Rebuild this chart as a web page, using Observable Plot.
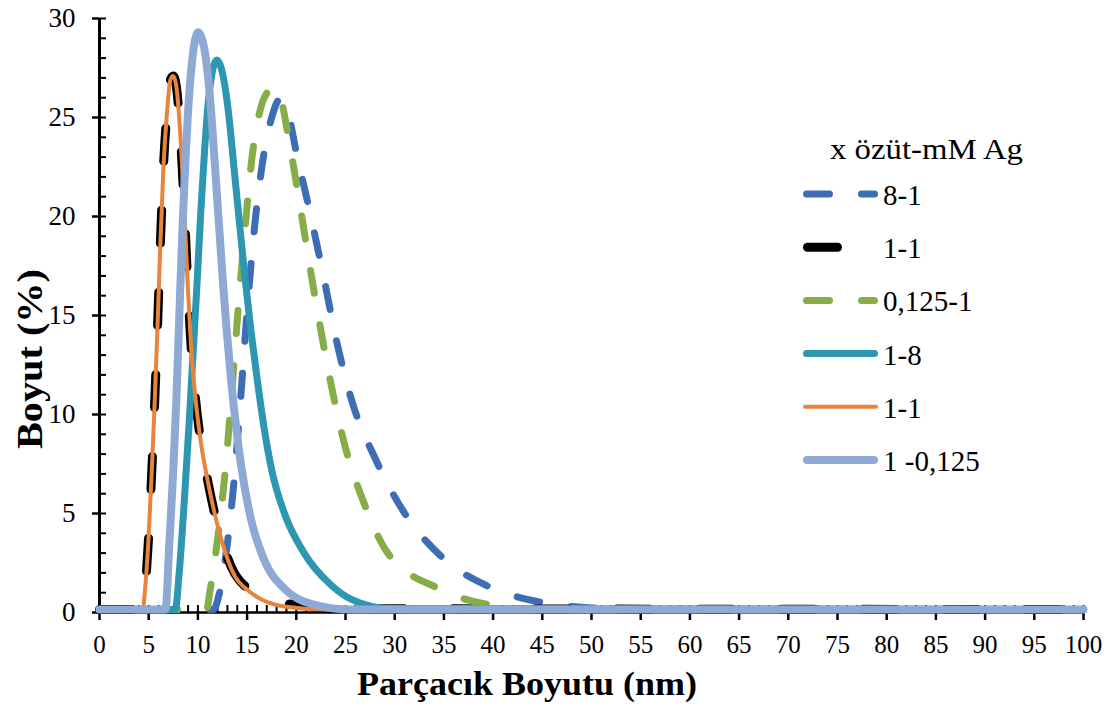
<!DOCTYPE html>
<html><head><meta charset="utf-8">
<script src="https://cdn.jsdelivr.net/npm/d3@7"></script>
<script src="https://cdn.jsdelivr.net/npm/@observablehq/plot@0.6"></script>
<style>
html,body{margin:0;padding:0;background:#fff;}
#wrap{position:relative;width:1115px;height:707px;font-family:"Liberation Serif","Times New Roman",serif;}
#wrap svg.overlay{position:absolute;left:0;top:0;pointer-events:none;}
</style></head><body><div id="wrap"></div>
<script>
// ---- data (x = particle size nm, y = %) ----
const legendTitle = "x özüt-mM Ag";
const seriesLabels = ["8-1", "1-1", "0,125-1", "1-8", "1-1", "1 -0,125"];
const xTicks = [0,5,10,15,20,25,30,35,40,45,50,55,60,65,70,75,80,85,90,95,100];
const yTicks = [0,5,10,15,20,25,30];

const s8_1 = [[0,0.15],[11.6,0.15],[12.1,0.8],[13,3.5],[13.7,6.8],[14.3,10.5],[15,15.2],[15.7,19.2],[16.5,22.5],[17.5,25],[18.3,25.9],[19,25.5],[20.1,23],[21.3,20.4],[22.8,16.9],[24.1,13.7],[25.7,10.6],[28,7.8],[30.9,5.1],[34.8,2.8],[39.6,1.3],[45.1,0.5],[50.7,0.22],[56,0.15],[100,0.15]];
const s1_1a = [[0,0.15],[4.4,0.15],[4.6,1],[5,3.9],[5.3,7],[5.6,10.5],[5.9,14.5],[6.2,18.8],[6.5,22.5],[6.9,25.5],[7.2,26.9],[7.5,27.1],[7.8,26.6],[8.1,25],[8.4,22.5],[8.7,19.5],[9,16.2],[9.3,13.5],[9.8,10.6],[10.3,8.6],[11.1,6.4],[12.1,4.2],[13.4,2.3],[15.4,1.1],[18.8,0.45],[20.2,0.4],[23,0.2],[100,0.15]];
const s0125_1 = [[0,0.15],[10.9,0.15],[11.2,1],[12.2,4.5],[12.9,7.8],[13.5,11.5],[14.2,16],[14.9,20],[15.5,23],[16.4,25.5],[17.1,26.3],[17.7,26.5],[18.5,25.8],[19.2,24],[20.2,21.1],[21.3,17.7],[22.3,14.8],[23.5,11.6],[24.9,8.5],[26.9,5.5],[29.3,3],[34.5,1.2],[40.1,0.35],[45.3,0.15],[100,0.15]];
const s1_8 = [[0,0.15],[7.7,0.15],[8.1,2],[8.6,5.5],[9.1,9.5],[9.5,13],[9.9,16.5],[10.3,20.3],[10.7,23.5],[11.1,26],[11.5,27.4],[11.9,27.9],[12.6,27],[13.1,25.3],[13.7,22.3],[14.2,19.8],[14.7,17.3],[15.4,14.2],[16.1,11.5],[16.8,9.1],[17.5,7.2],[18.8,5],[20.8,3],[23.5,1.4],[25.6,0.66],[29.5,0.2],[100,0.15]];
const s1_1b = [[0,0.15],[4.4,0.15],[4.6,1],[5,3.9],[5.3,7],[5.6,10.5],[5.9,14.5],[6.2,18.8],[6.5,22.5],[6.9,25.5],[7.2,26.9],[7.5,27.1],[7.8,26.6],[8.1,25],[8.4,22.5],[8.7,19.5],[9,16.2],[9.3,13.5],[9.8,10.6],[10.3,8.6],[11.1,6.4],[12.1,4.2],[13.4,2.2],[15.4,1],[18.8,0.3],[22.8,0.15],[100,0.15]];
const s1_0125 = [[0,0.15],[6.7,0.15],[7.1,3.5],[7.5,7.2],[7.8,10.6],[8.1,14.8],[8.4,19],[8.7,22.5],[9,25.3],[9.4,27.8],[10,29.3],[10.6,28.6],[11.2,26.2],[11.7,22.8],[12.1,19.9],[12.5,17],[12.9,14.4],[13.4,11.6],[13.9,9.3],[14.4,7.4],[15.4,4.7],[16.7,2.7],[18.8,1.2],[22.2,0.35],[25.6,0.15],[100,0.15]];
const seriesData = [s8_1, s1_1a, s0125_1, s1_8, s1_1b, s1_0125];

// ---- styles ----
const seriesStyles = [
  {stroke:"#3d6db5", width:7, dash:"23 32"},
  {stroke:"#000000", width:9, dash:"33 49"},
  {stroke:"#86ad48", width:7, dash:"23 32"},
  {stroke:"#2d97b1", width:7, dash:null},
  {stroke:"#e8843b", width:4, dash:null},
  {stroke:"#8fa9d5", width:8, dash:null}
];

const W = 1115, H = 707;
const mL = 99, mR = 32, mT = 18, mB = 95;
const frameH = H - mT - mB, frameW = W - mL - mR;
const serif = '"Liberation Serif","Times New Roman",serif';

const lineMarks = seriesData.map((arr, i) => {
  const st = seriesStyles[i];
  return Plot.line(arr, {
    x: d => d[0], y: d => d[1], stroke: st.stroke, strokeWidth: st.width,
    strokeDasharray: st.dash ?? undefined, strokeLinecap: "round", strokeLinejoin: "round",
    curve: "monotone-x"
  });
});

const chart = Plot.plot({
  width: W, height: H,
  marginLeft: mL, marginRight: mR, marginTop: mT, marginBottom: mB,
  style: {fontFamily: serif, color: "#000", background: "#fff", overflow: "visible"},
  x: {domain: [0, 100]},
  y: {domain: [0, 30]},
  marks: [
    Plot.tickX(d3.range(0, 101, 1), {x: d => d, insetTop: frameH - 7, stroke: "#000", strokeWidth: 2}),
    Plot.tickY(d3.range(0, 31, 1), {y: d => d, insetRight: frameW - 7, stroke: "#000", strokeWidth: 2}),
    Plot.ruleX([0], {stroke: "#000", strokeWidth: 3}),
    Plot.ruleY([0], {stroke: "#000", strokeWidth: 2.5}),
    Plot.axisX({ticks: xTicks, tickSize: 8, tickPadding: 15, fontSize: 25, strokeWidth: 2.5, label: null, tickFormat: d => String(d)}),
    Plot.axisY({ticks: yTicks, tickSize: 7, tickPadding: 17, fontSize: 27, strokeWidth: 2.5, label: null, tickFormat: d => String(d)}),
    ...lineMarks
  ]
});
const wrap = document.getElementById("wrap");
wrap.appendChild(chart);

// ---- overlay: axis titles and legend ----
const ns = "http://www.w3.org/2000/svg";
const ov = document.createElementNS(ns, "svg");
ov.setAttribute("class", "overlay");
ov.setAttribute("width", W); ov.setAttribute("height", H);
ov.setAttribute("font-family", serif);
wrap.appendChild(ov);
function el(tag, attrs, text) {
  const e = document.createElementNS(ns, tag);
  for (const k in attrs) e.setAttribute(k, attrs[k]);
  if (text != null) e.textContent = text;
  ov.appendChild(e);
  return e;
}
el("text", {x: 527, y: 695, "text-anchor": "middle", "font-size": 34, "font-weight": "bold", fill: "#000",
  textLength: 340, lengthAdjust: "spacingAndGlyphs"}, "Parçacık Boyutu (nm)");
el("text", {x: 0, y: 0, "text-anchor": "middle", "font-size": 36, "font-weight": "bold", fill: "#000",
  textLength: 180, lengthAdjust: "spacingAndGlyphs",
  transform: "translate(42,359) rotate(-90)"}, "Boyut (%)");

el("text", {x: 830, y: 159, "font-size": 29, fill: "#000", textLength: 193, lengthAdjust: "spacingAndGlyphs"}, legendTitle);
const rowY0 = 194, rowStep = 53.2;
seriesLabels.forEach((lab, i) => {
  const st = seriesStyles[i];
  const y = rowY0 + i * rowStep;
  const attrs = {x1: 803 + st.width/2, x2: 878 - st.width/2, y1: y, y2: y, stroke: st.stroke,
    "stroke-width": st.width, "stroke-linecap": "round"};
  if (st.dash) attrs["stroke-dasharray"] = (i === 1) ? "30 80" : st.dash;
  el("line", attrs);
  el("text", {x: 883, y: y + 11, "font-size": 29, fill: "#000"}, lab);
});
</script></body></html>
